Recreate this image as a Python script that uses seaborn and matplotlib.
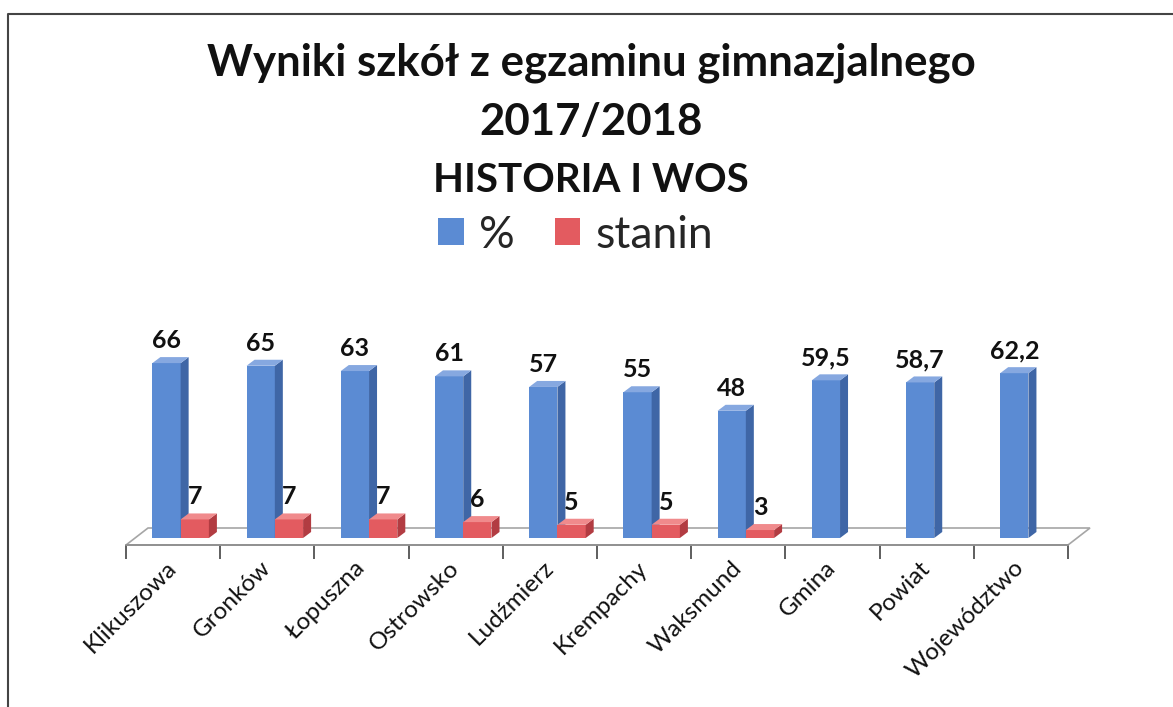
import numpy as np
import pandas as pd
import matplotlib
matplotlib.use("Agg")
import matplotlib.pyplot as plt
from matplotlib.patches import Polygon
from matplotlib.lines import Line2D
import seaborn as sns

# ---------------- data ----------------
categories = ["Klikuszowa", "Gronków", "Łopuszna", "Ostrowsko", "Ludźmierz",
              "Krempachy", "Waksmund", "Gmina", "Powiat", "Województwo"]
percent = [66, 65, 63, 61, 57, 55, 48, 59.5, 58.7, 62.2]
stanin = [7, 7, 7, 6, 5, 5, 3, None, None, None]
series_names = ["%", "stanin"]
title_lines = ["Wyniki szkół z egzaminu gimnazjalnego", "2017/2018", "HISTORIA I WOS"]

rows = []
for c, p, s in zip(categories, percent, stanin):
    rows.append({"category": c, "series": series_names[0], "value": p})
    if s is not None:
        rows.append({"category": c, "series": series_names[1], "value": s})
df = pd.DataFrame(rows)

# ---------------- style ----------------
sns.set_theme(style="white")
plt.rcParams["font.family"] = ["Lato", "DejaVu Sans"]

W, H = 1173, 707
fig = plt.figure(figsize=(W / 100, H / 100), dpi=100)
fig.patch.set_facecolor("white")

left_px, right_px = 126, 1068
bottom_px, top_px = 545, 290
ax = fig.add_axes([left_px / W, 1 - bottom_px / H,
                   (right_px - left_px) / W, (bottom_px - top_px) / H])
ax.set_facecolor("none")

front = {"%": "#5B8BD3", "stanin": "#E35B60"}
side = {"%": "#3F66A6", "stanin": "#B23C42"}
top = {"%": "#86A8E0", "stanin": "#F08A8C"}

sns.barplot(data=df, x="category", y="value", hue="series", order=categories,
            hue_order=series_names, palette=front, width=0.6, saturation=1,
            linewidth=0, ax=ax, legend=True)

px_per_unit = 2.65
px_per_cat = (right_px - left_px) / len(categories)
y0 = -(bottom_px - 538) / px_per_unit
ax.set_xlim(-0.5, len(categories) - 0.5)
ax.set_ylim(y0, y0 + (bottom_px - top_px) / px_per_unit)

for sp in ["left", "top", "right"]:
    ax.spines[sp].set_visible(False)
ax.spines["bottom"].set_color("#8C8C8C")
ax.spines["bottom"].set_linewidth(1.2)
ax.set_yticks([])
ax.set_xlabel("")
ax.set_ylabel("")

# floor plane
fdx = 22 / px_per_cat
fdy = 17 / px_per_unit
xl, xr = -0.5, len(categories) - 0.5
floor = Polygon([(xl, y0), (xr, y0), (xr + fdx, y0 + fdy), (xl + fdx, y0 + fdy)],
                closed=True, facecolor="white", edgecolor="#A6A6A6", lw=1.2,
                zorder=1, clip_on=False)
ax.add_patch(floor)

# pseudo-3D faces
dx = 8 / px_per_cat
dy = 6 / px_per_unit
shift = 0.08
for i, (cont, name) in enumerate(zip(ax.containers, series_names)):
    for patch in cont.patches:
        patch.set_x(patch.get_x() + shift)
        patch.set_zorder(2 + 2 * i)
        x0 = patch.get_x()
        w = patch.get_width()
        h = patch.get_height()
        if not np.isfinite(h) or h <= 0:
            continue
        sface = Polygon([(x0 + w, 0), (x0 + w + dx, dy), (x0 + w + dx, h + dy), (x0 + w, h)],
                        closed=True, facecolor=side[name], edgecolor="none",
                        zorder=2.5 + 2 * i, clip_on=False)
        tface = Polygon([(x0, h), (x0 + w, h), (x0 + w + dx, h + dy), (x0 + dx, h + dy)],
                        closed=True, facecolor=top[name], edgecolor="none",
                        zorder=2.5 + 2 * i, clip_on=False)
        ax.add_patch(sface)
        ax.add_patch(tface)
    labels = [f"{p.get_height():g}".replace(".", ",") for p in cont.patches]
    ax.bar_label(cont, labels=labels, padding=8, fontsize=18, fontweight="bold",
                 color="#111111", zorder=20)

# ticks
ax.set_xticks(range(len(categories)))
ax.set_xticklabels(categories)
ax.set_xticks(np.arange(-0.5, len(categories), 1), minor=True)
ax.tick_params(axis="x", which="major", length=0, pad=14, labelsize=17.5, colors="#111111")
ax.tick_params(axis="x", which="minor", bottom=True, length=10, width=1.1,
               direction="out", color="#333333")
for lab in ax.get_xticklabels():
    lab.set_rotation(45)
    lab.set_ha("right")
    lab.set_va("center")
    lab.set_rotation_mode("anchor")

# legend
sns.move_legend(ax, "center", bbox_to_anchor=(576 / W, 1 - 235 / H),
                bbox_transform=fig.transFigure, ncol=2, frameon=False, title=None,
                fontsize=32, handlelength=0.57, handleheight=0.57,
                handletextpad=0.35, columnspacing=0.9)

# title
for txt, ypx, fs in zip(title_lines, [63, 122, 180], [31.5, 31.5, 29]):
    fig.text(591 / W, 1 - ypx / H, txt, ha="center", va="center",
             fontsize=fs, fontweight="bold", color="#111111")

# frame
fig.add_artist(Line2D([8 / W, 8 / W, 1], [0, 1 - 14 / H, 1 - 14 / H],
                      transform=fig.transFigure, color="#444444", lw=1.5))

fig.savefig("out.png", dpi=100)
